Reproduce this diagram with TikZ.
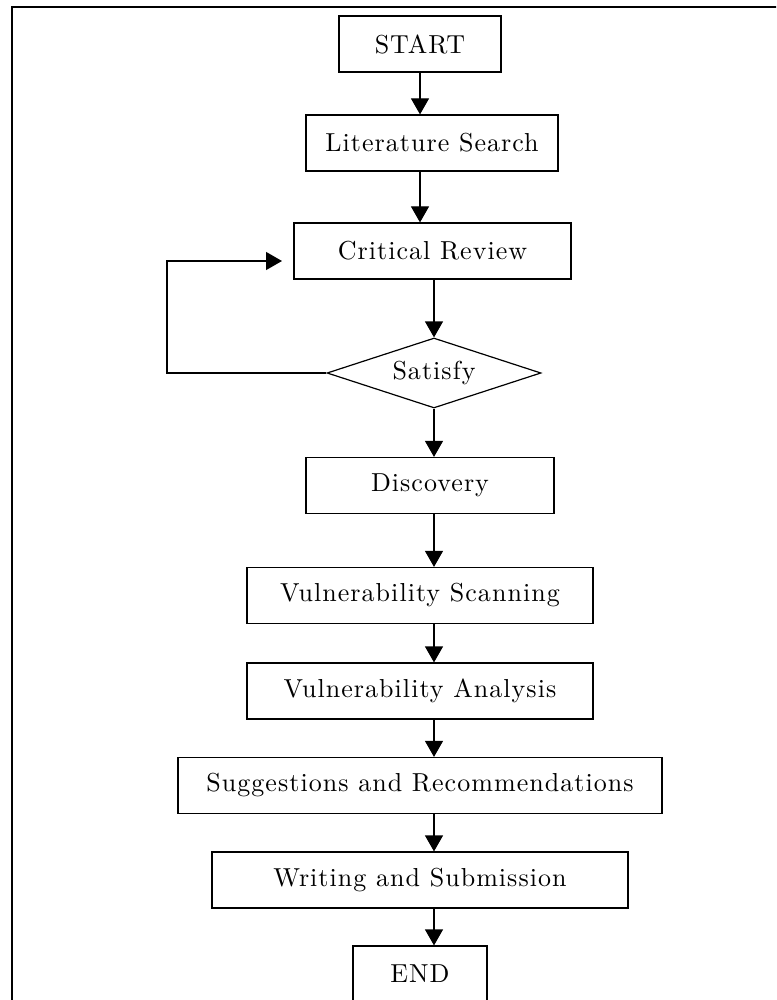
\documentclass[tikz,border=0pt]{standalone}
\usepackage{fontspec}
\setmainfont{lmroman10-regular.otf}[LetterSpace=4]
\usetikzlibrary{shapes.geometric,arrows.meta}

\begin{document}
\begin{tikzpicture}[
    x=0.5pt, y=-0.5pt,
    box/.style={draw, line width=0.6pt, rectangle, inner sep=0pt, minimum height=28pt, font=\fontsize{13}{15}\selectfont},
    decide/.style={draw, line width=0.6pt, diamond, aspect=3, inner sep=0pt, minimum width=107pt, minimum height=35pt, font=\fontsize{13}{15}\selectfont},
    arr/.style={line width=0.6pt, -{Triangle[length=8pt,width=9pt]}},
]
    \clip (0,0) rectangle (776,1000);

    % Outer frame (only its top and left edges fall on the page)
    \draw[line width=1pt] (12,1020) -- (12,7) -- (800,7);

    % Steps of the study
    \node[box, minimum width=81pt]    (start) at (420,44)    {START};
    \node[box, minimum width=126pt]   (lit)   at (432,143)   {Literature Search};
    \node[box, minimum width=138.5pt] (crit)  at (432.5,251) {Critical Review};
    \node[decide]                     (sat)   at (434,373)   {Satisfy};
    \node[box, minimum width=124pt]   (disc)  at (430,485.5) {Discovery};
    \node[box, minimum width=173pt]   (scan)  at (420,595.5) {Vulnerability Scanning};
    \node[box, minimum width=173pt]   (anal)  at (420,691)   {Vulnerability Analysis};
    \node[box, minimum width=242pt]   (sugg)  at (420,785.5) {Suggestions and Recommendations};
    \node[box, minimum width=208pt]   (writ)  at (420,880)   {Writing and Submission};
    \node[box, minimum width=67pt]    (stop)  at (420,974)   {END};

    % Main flow
    \draw[arr] (start.south) -- (start.south |- lit.north);
    \draw[arr] (lit.south -| start) -- (crit.north -| start);
    \draw[arr] (crit.south -| sat) -- (sat.north);
    \draw[arr] (sat.south) -- (disc.north -| sat);
    \draw[arr] (disc.south -| sat) -- (scan.north -| sat);
    \draw[arr] (scan.south -| sat) -- (anal.north -| sat);
    \draw[arr] (anal.south -| sat) -- (sugg.north -| sat);
    \draw[arr] (sugg.south -| sat) -- (writ.north -| sat);
    \draw[arr] (writ.south -| sat) -- (stop.north -| sat);

    % Not satisfied: back to the review
    \coordinate (back) at (282,261);
    \draw[arr] (sat.west) -| (167,261) -- (back);
\end{tikzpicture}
\end{document}
